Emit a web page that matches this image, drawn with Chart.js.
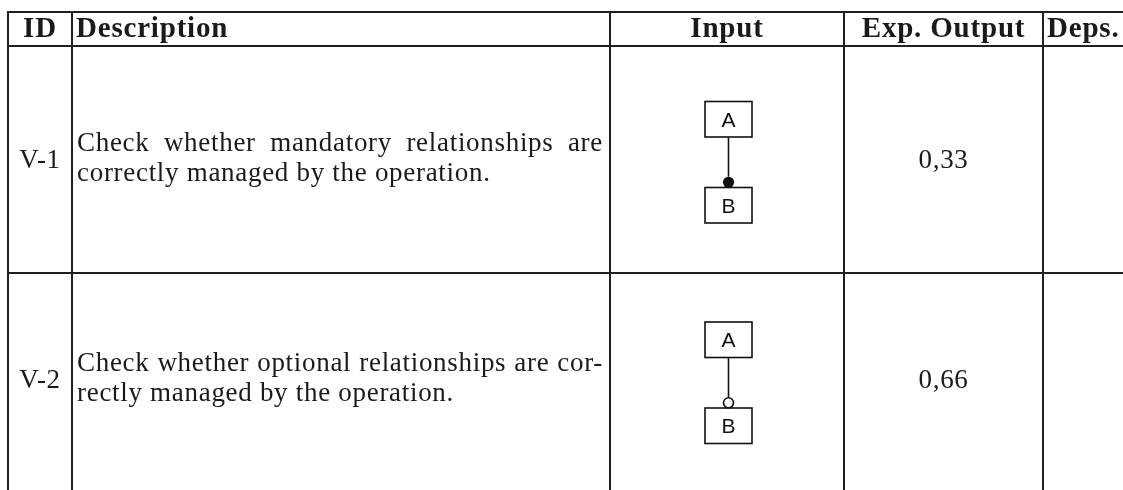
<!DOCTYPE html>
<html>
<head>
<meta charset="utf-8">
<script src="https://cdn.jsdelivr.net/npm/chart.js@4.4.1/dist/chart.umd.min.js"></script>
<style>
  html, body { margin: 0; padding: 0; background: #ffffff; }
  #c { display: block; }
</style>
</head>
<body>
<canvas id="c" width="1123" height="490"></canvas>
<script>
// ---------------- data ----------------
const headers = ['ID', 'Description', 'Input', 'Exp. Output', 'Deps.'];
const ids = ['V-1', 'V-2'];
const descriptionLines = [
  ['Check whether mandatory relationships are', 'correctly managed by the operation.'],
  ['Check whether optional relationships are cor-', 'rectly managed by the operation.']
];
const inputKinds = ['mandatory', 'optional'];
const inputEntities = [['A', 'B'], ['A', 'B']];
const expectedOutputs = ['0,33', '0,66'];
const dependencies = ['', ''];

// ---------------- layout (table geometry in scale units) ----------------
const colWidths = [64, 538, 234, 199, 80];
const rowHeights = [34, 227, 214];
const colEdges = colWidths.reduce((a, w) => (a.push(a[a.length - 1] + w), a), [0]);
const rowEdges = rowHeights.reduce((a, h) => (a.push(a[a.length - 1] + h), a), [0]);

const LINE = '#231f20';
const INK = '#1a1a1a';
const headFont = 'bold 29px "Liberation Serif", "Times New Roman", serif';
const bodyFont = '27px "Liberation Serif", "Times New Roman", serif';
const sansFont = '21px "Liberation Sans", Arial, sans-serif';

function setSpacing(ctx, v) { try { ctx.letterSpacing = v + 'px'; } catch (e) {} }

const tablePlugin = {
  id: 'tableText',
  afterDraw(chart) {
    const ctx = chart.ctx;
    const xs = chart.scales.x, ys = chart.scales.y;
    const X = v => xs.getPixelForValue(v);
    const Y = v => ys.getPixelForValue(v);
    const colL = i => X(colEdges[i]);
    const colR = i => X(colEdges[i + 1]);
    const colC = i => (colL(i) + colR(i)) / 2;
    const rowC = r => (Y(rowEdges[r]) + Y(rowEdges[r + 1])) / 2;

    ctx.save();
    ctx.fillStyle = INK;
    ctx.textBaseline = 'alphabetic';

    // header
    ctx.font = headFont;
    setSpacing(ctx, 0.8);
    const hb = rowC(0) + 8;
    const headAlign = ['center', 'left', 'center', 'center', 'left'];
    headers.forEach((h, i) => {
      ctx.textAlign = headAlign[i];
      const x = headAlign[i] === 'center' ? colC(i) : colL(i) + 4;
      ctx.fillText(h, x, hb);
    });

    // body rows
    ids.forEach((id, r) => {
      const c = rowC(r + 1);
      ctx.font = bodyFont;
      setSpacing(ctx, 0.7);
      ctx.fillStyle = INK;
      // ID
      ctx.textAlign = 'center';
      ctx.fillText(id, colC(0), c + 8);
      // description (first line justified, last line ragged)
      const left = colL(1) + 5, right = colR(1) - 7;
      const lines = descriptionLines[r];
      const startB = c + 8 - 15 * (lines.length - 1) - 2;
      lines.forEach((ln, k) => {
        const by = startB + 30 * k;
        ctx.textAlign = 'left';
        if (k < lines.length - 1) {
          const words = ln.split(' ');
          const ww = words.map(w => ctx.measureText(w).width);
          const total = ww.reduce((a, b) => a + b, 0);
          const gap = (right - left - total) / (words.length - 1);
          let x = left;
          words.forEach((w, j) => { ctx.fillText(w, x, by); x += ww[j] + gap; });
        } else {
          ctx.fillText(ln, left, by);
        }
      });
      // expected output
      ctx.textAlign = 'center';
      ctx.fillText(expectedOutputs[r], colC(3), c + 8);
      if (dependencies[r]) { ctx.textAlign = 'left'; ctx.fillText(dependencies[r], colL(4) + 4, c + 8); }

      // input diagram
      const cx = colC(2) + 1.5;
      const dc = c + 3;
      const bw = 47, bh = 35.5;
      const aTop = dc - 61, aBot = aTop + bh;
      const bTop = dc + 25, bBot = bTop + bh;
      const cy = dc + 19.8;
      const rad = inputKinds[r] === 'mandatory' ? 5.6 : 5;
      ctx.strokeStyle = '#111';
      ctx.lineWidth = 1.6;
      setSpacing(ctx, 0);
      ctx.strokeRect(cx - bw / 2, aTop, bw, bh);
      ctx.strokeRect(cx - bw / 2, bTop, bw, bh);
      ctx.beginPath();
      ctx.moveTo(cx, aBot);
      ctx.lineTo(cx, cy - rad);
      ctx.stroke();
      ctx.beginPath();
      ctx.arc(cx, cy, rad, 0, Math.PI * 2);
      if (inputKinds[r] === 'mandatory') {
        ctx.fillStyle = '#111';
        ctx.fill();
      } else {
        ctx.fillStyle = '#ffffff';
        ctx.fill();
        ctx.stroke();
      }
      ctx.fillStyle = '#111';
      ctx.font = sansFont;
      ctx.textAlign = 'center';
      ctx.fillText(inputEntities[r][0], cx, (aTop + aBot) / 2 + 7.5);
      ctx.fillText(inputEntities[r][1], cx, (bTop + bBot) / 2 + 7.5);
    });
    ctx.restore();
  }
};

new Chart(document.getElementById('c'), {
  type: 'scatter',
  data: { datasets: [] },
  options: {
    responsive: false,
    animation: false,
    devicePixelRatio: 1,
    layout: { padding: { left: 8, top: 12, right: 0, bottom: 0 } },
    plugins: { legend: { display: false }, tooltip: { enabled: false }, title: { display: false } },
    scales: {
      x: {
        type: 'linear',
        position: 'top',
        min: 0,
        max: colEdges[colEdges.length - 1],
        afterBuildTicks: s => { s.ticks = colEdges.slice(0, -1).map(v => ({ value: v })); },
        ticks: { display: false },
        grid: { display: true, drawTicks: false, color: LINE, lineWidth: 2 },
        border: { display: true, color: LINE, width: 2 }
      },
      y: {
        type: 'linear',
        position: 'left',
        reverse: true,
        min: 0,
        max: 478,
        afterBuildTicks: s => { s.ticks = rowEdges.slice(0, -1).map(v => ({ value: v })); },
        ticks: { display: false },
        grid: { display: true, drawTicks: false, color: LINE, lineWidth: 2 },
        border: { display: true, color: LINE, width: 2 }
      }
    }
  },
  plugins: [tablePlugin]
});
</script>
</body>
</html>
